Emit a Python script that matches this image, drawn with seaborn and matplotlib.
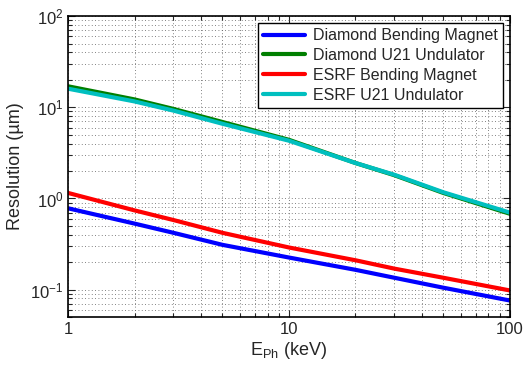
import numpy as np
import pandas as pd
import matplotlib
matplotlib.use("Agg")
import matplotlib.pyplot as plt
from matplotlib import ticker
import seaborn as sns

# photon energy (keV) and resolution (um)
energy = [1, 2, 3, 5, 10, 20, 30, 50, 100]
diamond_bm = [0.78, 0.53, 0.42, 0.31, 0.225, 0.165, 0.135, 0.105, 0.076]
diamond_u21 = [17.0, 12.2, 9.6, 6.9, 4.4, 2.45, 1.80, 1.15, 0.68]
esrf_bm = [1.15, 0.74, 0.58, 0.42, 0.29, 0.21, 0.17, 0.135, 0.098]
esrf_u21 = [16.0, 11.6, 9.2, 6.6, 4.3, 2.45, 1.82, 1.17, 0.70]

names = ["Diamond Bending Magnet", "Diamond U21 Undulator",
         "ESRF Bending Magnet", "ESRF U21 Undulator"]
series = [diamond_bm, diamond_u21, esrf_bm, esrf_u21]
colors = ["#0000ff", "#007f00", "#ff0000", "#00bfbf"]

rows = []
for name, vals in zip(names, series):
    for e, v in zip(energy, vals):
        rows.append({"E": e, "res": v, "source": name})
df = pd.DataFrame(rows)

sns.set_style("ticks")
plt.rcParams["font.family"] = ["Liberation Sans", "DejaVu Sans"]
plt.rcParams["xtick.direction"] = "in"
plt.rcParams["ytick.direction"] = "in"

fig = plt.figure(figsize=(5.24, 3.67), dpi=100)
ax = fig.add_axes([0.13, 0.136, 0.843, 0.82])

sns.lineplot(data=df, x="E", y="res", hue="source", hue_order=names,
             palette=dict(zip(names, colors)), linewidth=3, ax=ax,
             estimator=None, sort=True)

ax.set_xscale("log")
ax.set_yscale("log")
ax.set_xlim(1, 100)
ax.set_ylim(0.05, 100)

ax.xaxis.set_major_formatter(ticker.FuncFormatter(lambda v, p: "%g" % v))
ax.xaxis.set_minor_formatter(ticker.NullFormatter())
ax.tick_params(which="both", top=True, right=True, labelsize=12, width=0.8)
ax.tick_params(which="major", length=5)
ax.tick_params(which="minor", length=3)

ax.grid(True, which="both", linestyle=(0, (1, 3)), color="0.35", linewidth=0.6)
for s in ax.spines.values():
    s.set_linewidth(1.2)
    s.set_color("black")

ax.set_xlabel(r"E$_{\mathregular{Ph}}$ (keV)", fontsize=13, labelpad=2)
ax.set_ylabel("Resolution (µm)", fontsize=13, labelpad=4)

leg = ax.legend(loc="upper right", fontsize=11.5, handlelength=2.6,
                handletextpad=0.5, fancybox=False, framealpha=1,
                edgecolor="black", borderpad=0.35, labelspacing=0.3,
                borderaxespad=0.4)
leg.get_frame().set_linewidth(1.0)

fig.savefig("out.png", dpi=100)
